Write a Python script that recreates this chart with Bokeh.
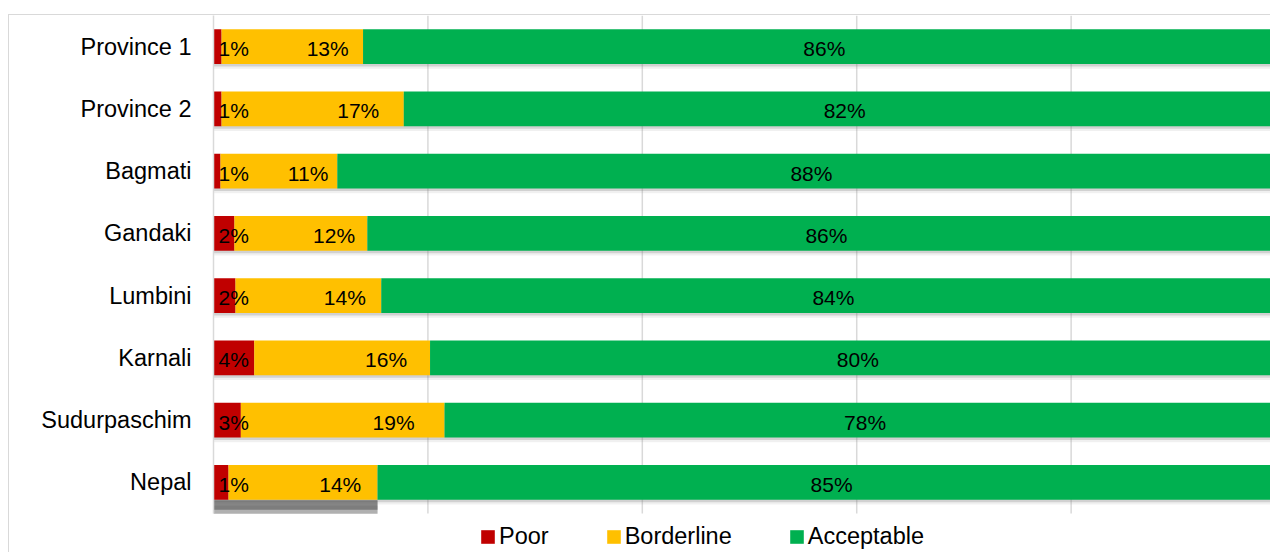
from bokeh.plotting import figure
from bokeh.models import (Range1d, FixedTicker, Legend, LegendItem, ColumnDataSource)
from bokeh.core.properties import value
from bokeh.embed import file_html
from bokeh.resources import INLINE

# ---- data ----
regions = ["Province 1", "Province 2", "Bagmati", "Gandaki", "Lumbini",
           "Karnali", "Sudurpaschim", "Nepal"]
poor = [0.75, 0.75, 0.65, 1.95, 2.05, 3.8, 2.55, 1.4]
borderline = [13.2, 17.0, 10.9, 12.4, 13.6, 16.4, 19.0, 13.9]
acceptable = [86.05, 82.25, 88.45, 85.65, 84.35, 79.8, 78.45, 84.7]
poor_labels = ["1%", "1%", "1%", "2%", "2%", "4%", "3%", "1%"]
borderline_labels = ["13%", "17%", "11%", "12%", "14%", "16%", "19%", "14%"]
acceptable_labels = ["86%", "82%", "88%", "86%", "84%", "80%", "78%", "85%"]
series = ["Poor", "Borderline", "Acceptable"]
colors = ["#C00000", "#FFC000", "#00B050"]
grid_ticks = [20, 40, 60, 80]

FONT = "Liberation Sans"
BAR_H = 0.56
n = len(regions)
ypos = list(range(n - 1, -1, -1))      # first category on top

# stacked extents
p_end = list(poor)
b_end = [a + b for a, b in zip(poor, borderline)]
a_end = [a + b for a, b in zip(b_end, acceptable)]

src = ColumnDataSource(dict(
    y=ypos,
    zero=[0] * n,
    p_end=p_end, b_end=b_end, a_end=a_end,
    b_lab_x=[p + 0.75 * b for p, b in zip(poor, borderline)],
    a_lab_x=[b + a / 2 for b, a in zip(b_end, acceptable)],
    poor_lab=poor_labels, border_lab=borderline_labels, acc_lab=acceptable_labels,
))

W, H = 1262, 538
LEFT = 204
band_px = 62.25
y_lo = (n - 0.5) - H / band_px

p = figure(x_range=Range1d(0, 98.69), y_range=Range1d(y_lo, n - 0.5),
           width=W, height=H,
           output_backend="svg", toolbar_location=None,
           min_border_left=LEFT, min_border_right=0,
           min_border_top=0, min_border_bottom=0,
           styles={"margin-left": "8px", "margin-top": "13.5px",
                   "border-left": "1.5px solid #d9d9d9",
                   "border-top": "1.5px solid #d9d9d9"})

p.outline_line_color = None
p.background_fill_color = "white"
p.border_fill_color = "white"

p.xaxis.visible = False
p.xgrid.grid_line_color = None
p.ygrid.grid_line_color = None

ax = p.yaxis[0]
ax.ticker = FixedTicker(ticks=ypos)
ax.major_label_overrides = {y: r for y, r in zip(ypos, regions)}
ax.bounds = (-0.5, n - 0.5)
ax.axis_line_color = "#d9d9d9"
ax.axis_line_width = 1.5
ax.major_tick_line_color = None
ax.minor_tick_line_color = None
ax.major_label_standoff = 16
ax.major_label_text_font = FONT
ax.major_label_text_font_size = "23.5px"
ax.major_label_text_color = "#000000"

# vertical gridlines, only across the category bands
gsrc = ColumnDataSource(dict(x=grid_ticks, y0=[-0.5] * len(grid_ticks),
                             y1=[n - 0.5] * len(grid_ticks)))
p.segment(x0="x", y0="y0", x1="x", y1="y1", source=gsrc,
          line_color="#d9d9d9", line_width=1.5)

# drop shadows
for off, alpha in [(0.075, 0.12), (0.04, 0.28)]:
    ssrc = ColumnDataSource(dict(y=[v - off for v in ypos], zero=[0] * n, right=a_end))
    p.hbar(y="y", left="zero", right="right", height=BAR_H, source=ssrc,
           fill_color="#808080", fill_alpha=alpha, line_color=None)

# the heavier shadow under the Nepal bar
for off, h, alpha in [(0.36, 0.16, 0.6), (0.4, 0.2, 0.3), (0.44, 0.14, 0.25)]:
    nsrc = ColumnDataSource(dict(y=[ypos[-1] - off], zero=[0], right=[b_end[-1]]))
    p.hbar(y="y", left="zero", right="right", height=h, source=nsrc,
           fill_color="#5a5a5a", fill_alpha=alpha, line_color=None)

r_poor = p.hbar(y="y", left="zero", right="p_end", height=BAR_H, source=src,
                fill_color=colors[0], line_color=None)
r_bord = p.hbar(y="y", left="p_end", right="b_end", height=BAR_H, source=src,
                fill_color=colors[1], line_color=None)
r_acc = p.hbar(y="y", left="b_end", right="a_end", height=BAR_H, source=src,
               fill_color=colors[2], line_color=None)

txt = dict(source=src, text_font=value(FONT), text_font_size="21px",
           text_color="#000000", text_baseline="middle", y_offset=2)
p.text(x="zero", y="y", text="poor_lab", text_align="left", x_offset=5, **txt)
p.text(x="b_lab_x", y="y", text="border_lab", text_align="center", **txt)
p.text(x="a_lab_x", y="y", text="acc_lab", text_align="center", **txt)

legend = Legend(items=[LegendItem(label=s, renderers=[r])
                       for s, r in zip(series, [r_poor, r_bord, r_acc])],
                orientation="horizontal", location=(266, 3),
                glyph_width=17, glyph_height=17, label_standoff=3, spacing=56,
                padding=0, margin=0, border_line_color=None,
                background_fill_alpha=0,
                label_text_font=FONT, label_text_font_size="23.5px",
                label_text_color="#000000")
p.add_layout(legend, "center")

open("out.html", "w").write(file_html(p, INLINE))
